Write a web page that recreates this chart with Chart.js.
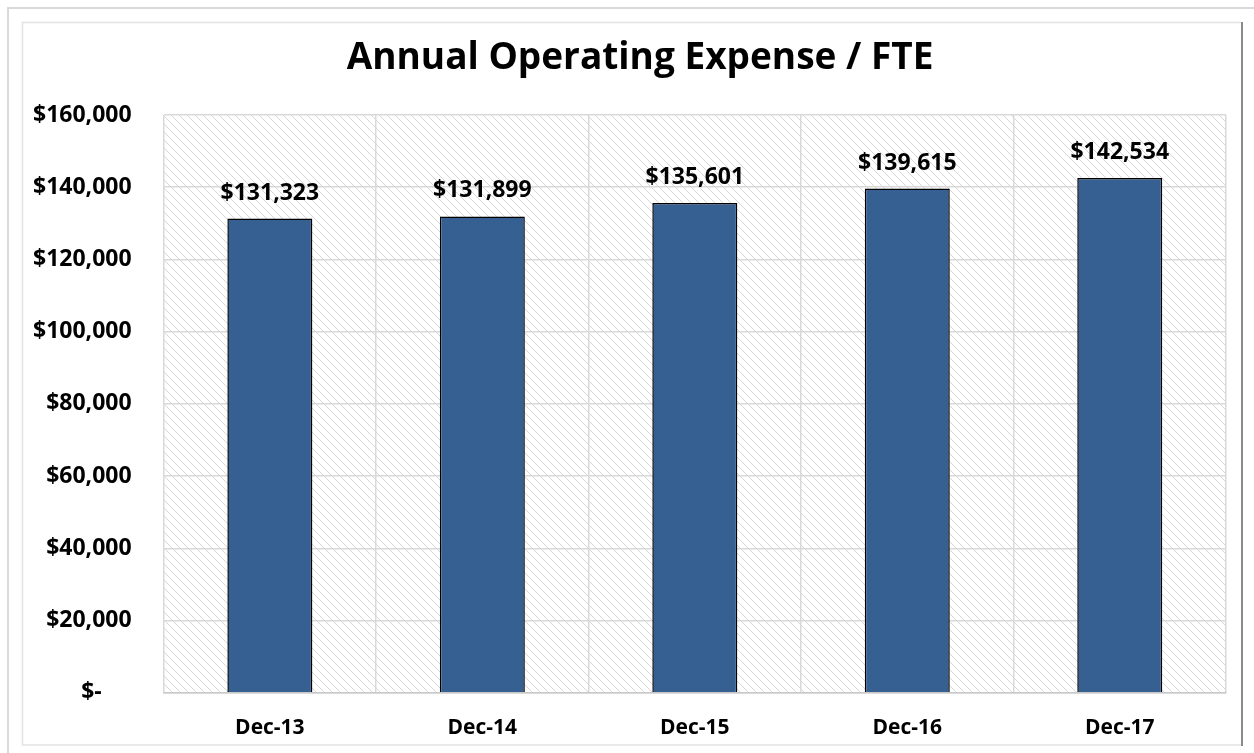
<!DOCTYPE html>
<html>
<head>
<meta charset="utf-8">
<script src="https://cdn.jsdelivr.net/npm/chart.js@4/dist/chart.umd.min.js"></script>
<style>
  html, body { margin: 0; padding: 0; background: #ffffff; }
  #wrap { width: 1254px; height: 753px; position: relative; }
</style>
</head>
<body>
<div id="wrap"><canvas id="c" width="1254" height="753"></canvas></div>
<script>
const chartTitle = 'Annual Operating Expense / FTE';
const categories = ['Dec-13', 'Dec-14', 'Dec-15', 'Dec-16', 'Dec-17'];
const expensePerFte = [131323, 131899, 135601, 139615, 142534];
const yTickValues = [0, 20000, 40000, 60000, 80000, 100000, 120000, 140000, 160000];

const FONT = '"Open Sans", Lato, sans-serif';

function money(v) {
  return '$' + Math.round(v).toLocaleString('en-US');
}

// Light downward-diagonal hatch used for the plot area fill
function hatchPattern(ctx) {
  const n = 8;
  const t = document.createElement('canvas');
  t.width = n; t.height = n;
  const g = t.getContext('2d');
  g.fillStyle = '#ffffff';
  g.fillRect(0, 0, n, n);
  g.fillStyle = '#d6d6d6';
  for (let i = 0; i < n; i++) g.fillRect(i, i, 1, 1);
  return ctx.createPattern(t, 'repeat');
}

const framePlugin = {
  id: 'frame',
  beforeDraw(chart) {
    const { ctx, chartArea: a, width, height } = chart;
    ctx.save();
    ctx.fillStyle = '#ffffff';
    ctx.fillRect(0, 0, width, height);
    // outer page frame
    ctx.strokeStyle = '#d9d9d9';
    ctx.lineWidth = 2;
    ctx.beginPath();
    ctx.moveTo(8, height); ctx.lineTo(8, 8); ctx.lineTo(width, 8);
    ctx.stroke();
    // chart border
    ctx.strokeStyle = '#e3e3e3';
    ctx.lineWidth = 1.5;
    ctx.beginPath();
    ctx.moveTo(1241, 22.5); ctx.lineTo(22.5, 22.5); ctx.lineTo(22.5, 745); ctx.lineTo(1241, 745);
    ctx.stroke();
    ctx.strokeStyle = '#8a8a8a';
    ctx.lineWidth = 2;
    ctx.beginPath();
    ctx.moveTo(1242, 22); ctx.lineTo(1242, 746);
    ctx.stroke();
    // hatched plot area
    ctx.fillStyle = hatchPattern(ctx);
    ctx.fillRect(a.left, a.top, a.right - a.left, a.bottom - a.top);
    // title, centred on the chart box
    ctx.fillStyle = '#000000';
    ctx.font = 'bold 37px ' + FONT;
    ctx.textAlign = 'center';
    ctx.textBaseline = 'middle';
    ctx.fillText(chartTitle, 640, 58);
    ctx.restore();
  },
  afterDatasetsDraw(chart) {
    const { ctx } = chart;
    const meta = chart.getDatasetMeta(0);
    ctx.save();
    ctx.fillStyle = '#000000';
    ctx.font = 'bold 23px ' + FONT;
    ctx.textAlign = 'center';
    ctx.textBaseline = 'alphabetic';
    meta.data.forEach((bar, i) => {
      ctx.fillText(money(expensePerFte[i]), bar.x, bar.y - 19);
    });
    ctx.restore();
  }
};

new Chart(document.getElementById('c'), {
  type: 'bar',
  data: {
    labels: categories,
    datasets: [{
      data: expensePerFte,
      backgroundColor: '#366092',
      borderColor: '#000000',
      borderWidth: 1.5,
      categoryPercentage: 1,
      barPercentage: 0.4
    }]
  },
  options: {
    responsive: false,
    animation: false,
    layout: { padding: { left: 1, right: 28, top: 115, bottom: -11 } },
    plugins: {
      legend: { display: false },
      tooltip: { enabled: false },
      title: { display: false }
    },
    scales: {
      x: {
        grid: { display: true, offset: true, color: '#d9d9d9', lineWidth: 1.5, drawTicks: false },
        border: { color: '#c8c8c8', width: 1.5 },
        ticks: { color: '#000000', font: { family: FONT, size: 21, weight: 'bold' }, padding: 23 }
      },
      y: {
        min: 0, max: 160000,
        afterBuildTicks(scale) { scale.ticks = yTickValues.map(v => ({ value: v })); },
        grid: { color: '#d9d9d9', lineWidth: 1.5, drawTicks: false },
        border: { display: false },
        ticks: {
          color: '#000000',
          font: { family: FONT, size: 23, weight: 'bold' },
          padding: 32,
          callback: v => v === 0 ? '$-     ' : money(v)
        }
      }
    }
  },
  plugins: [framePlugin]
});
</script>
</body>
</html>
